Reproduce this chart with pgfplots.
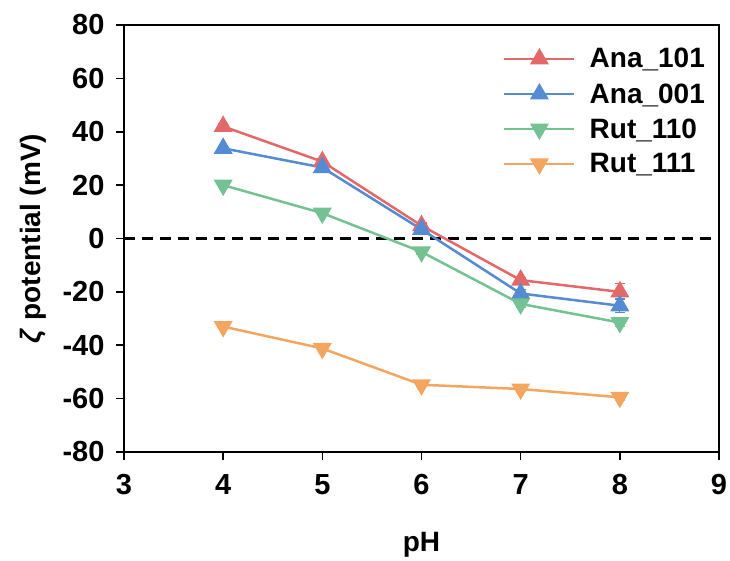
\documentclass[border=0pt]{standalone}
\usepackage{fontspec}
\setmainfont{Liberation Sans}
\usepackage{pgfplots}
\pgfplotsset{compat=1.18}
\definecolor{cRed}{RGB}{227,104,104}
\definecolor{cBlue}{RGB}{84,139,210}
\definecolor{cGreen}{RGB}{116,194,145}
\definecolor{cOrange}{RGB}{244,165,96}
\begin{document}
\begin{tikzpicture}
\useasboundingbox (-124pt,-108pt) rectangle (606pt,452pt);
\begin{axis}[
  at={(0,0)}, anchor=south west,
  scale only axis, width=595pt, height=427pt,
  xmin=3, xmax=9, ymin=-80, ymax=80,
  xtick={3,4,5,6,7,8,9}, ytick={-80,-60,...,80},
  axis line style={line width=1.6pt},
  tick style={line width=1.6pt, black},
  tick align=outside, major tick length=8pt,
  xtick pos=bottom, ytick pos=left,
  /pgf/number format/assume math mode=true,
  ticklabel style={font=\bfseries\fontsize{29}{34}\selectfont},
  xticklabel style={yshift=-11pt},
  yticklabel style={xshift=-8pt},
  xlabel={pH}, ylabel={\textbf{\textit{ζ}} potential (mV)},
  label style={font=\bfseries\fontsize{28}{33}\selectfont},
  xlabel style={at={(axis description cs:0.5,-0.218)}, anchor=center},
  ylabel style={at={(axis description cs:-0.153,0.5)}, anchor=center, rotate=0},
  legend style={draw=none, fill=none, at={(0.985,0.955)}, anchor=north east,
    font=\bfseries\fontsize{28}{33}\selectfont, row sep=10pt,
    /tikz/every odd column/.append style={column sep=12pt}},
  legend cell align=left,
  legend image code/.code={\draw[mark repeat=2,mark phase=2,#1] plot coordinates {(0pt,0pt) (35pt,0pt) (70pt,0pt)};},
  every axis plot/.append style={line width=2.5pt},
  error bars/error bar style={line width=1.2pt},
  error bars/error mark options={rotate=90, mark size=5pt, line width=1.2pt},
]
\addplot[black, line width=2.5pt, dash pattern=on 11pt off 7pt, forget plot] coordinates {(3,0) (9,0)};
\addplot[cRed, mark=triangle*, mark size=8.5pt, mark options={solid},
  error bars/.cd, y dir=both, y explicit] coordinates {
  (4,42) +- (0,1) (5,28.8) +- (0,1) (6,4.8) +- (0,1) (7,-15.6) +- (0,1) (8,-20) +- (0,3)};
\addlegendentry{Ana\_101}
\addplot[cBlue, mark=triangle*, mark size=8.5pt, mark options={solid},
  error bars/.cd, y dir=both, y explicit] coordinates {
  (4,33.8) +- (0,0.5) (5,26.6) +- (0,0.5) (6,3.4) +- (0,1) (7,-20.6) +- (0,1.5) (8,-25.2) +- (0,2.5)};
\addlegendentry{Ana\_001}
\addplot[cGreen, mark=triangle*, mark size=8.5pt, mark options={solid, rotate=180},
  error bars/.cd, y dir=both, y explicit] coordinates {
  (4,20) +- (0,0.5) (5,9.5) +- (0,0.5) (6,-5) +- (0,1) (7,-24.5) +- (0,1.5) (8,-31.5) +- (0,1.5)};
\addlegendentry{Rut\_110}
\addplot[cOrange, mark=triangle*, mark size=8.5pt, mark options={solid, rotate=180},
  error bars/.cd, y dir=both, y explicit] coordinates {
  (4,-33) +- (0,0.5) (5,-41.2) +- (0,0.5) (6,-54.8) +- (0,0.5) (7,-56.4) +- (0,0.8) (8,-59.5) +- (0,1)};
\addlegendentry{Rut\_111}
\end{axis}
\end{tikzpicture}
\end{document}
